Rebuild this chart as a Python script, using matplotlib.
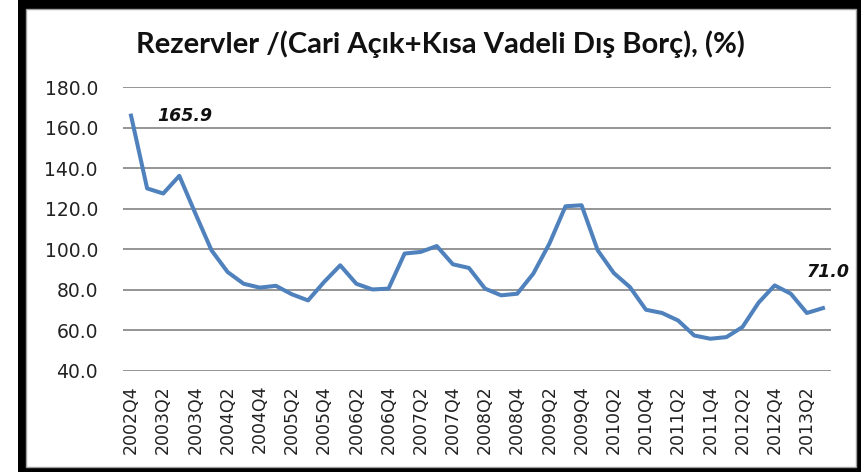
""" Reserves / (current account deficit + short-term external debt), quarterly. """

import matplotlib
matplotlib.use("Agg")
import matplotlib.pyplot as plt
from matplotlib.patches import Rectangle

quarters = [f"{y}Q{q}" for y in range(2002, 2014) for q in range(1, 5)][3:-1]

ratio = [165.9, 130.0, 127.5, 136.2, 117.6, 99.5, 88.8, 83.0, 81.1, 82.0,
         77.8, 74.8, 83.9, 92.1, 83.0, 80.2, 80.6, 97.9, 98.7, 101.6,
         92.6, 90.8, 80.6, 77.3, 78.1, 88.0, 102.8, 121.2, 121.7, 99.5,
         88.3, 81.4, 70.2, 68.6, 64.9, 57.5, 55.9, 56.7, 61.7, 73.7,
         82.2, 78.1, 68.6, 71.0]

tick_labels = quarters[::2]
y_ticks = [40, 60, 80, 100, 120, 140, 160, 180]

fig = plt.figure(figsize=(8.61, 4.72), dpi=100)

# black frame around the chart
fig.patches.append(Rectangle((18 / 861, 0), 1, 1, transform=fig.transFigure,
                             facecolor="black", edgecolor="none", zorder=-2))
fig.patches.append(Rectangle((26 / 861, 5 / 472), 830 / 861, 458 / 472,
                             transform=fig.transFigure, facecolor="white",
                             edgecolor="#a0a0a0", linewidth=1.0, zorder=-1))

ax = fig.add_axes([123 / 861, 1 - 371 / 472, 708 / 861, 284 / 472])
x = list(range(len(quarters)))
ax.plot(x, ratio, color="#4f81bd", linewidth=2.9, solid_joinstyle="round", zorder=3)

ax.set_xlim(-0.5, len(quarters) - 0.5)
ax.set_ylim(40, 180)
ax.set_yticks(y_ticks)
ax.set_yticklabels([f"{v:.1f}" for v in y_ticks], fontsize=13.5, color="#222222")
ax.set_xticks(x[::2])
ax.set_xticklabels(tick_labels, rotation=90, fontsize=12.5, color="#222222")
ax.tick_params(length=0)
ax.tick_params(axis="y", pad=18)
ax.tick_params(axis="x", pad=10)
ax.grid(axis="y", color="#8c8c8c", linewidth=1.3)
ax.set_axisbelow(True)
for s in ax.spines.values():
    s.set_visible(False)

ax.annotate(f"{ratio[0]:.1f}", (x[0], ratio[0]), xytext=(19, 0),
            textcoords="offset points", fontsize=12.5, fontweight="bold",
            fontstyle="italic", color="#111111", va="center", ha="left")
ax.annotate(f"{ratio[-1]:.1f}", (x[-1], ratio[-1]), xytext=(3.6, 26),
            textcoords="offset points", fontsize=12.5, fontweight="bold",
            fontstyle="italic", color="#111111", va="center", ha="center")

fig.text(440 / 861, 1 - 44 / 472, "Rezervler /(Cari Açık+Kısa Vadeli Dış Borç), (%)",
         fontsize=21, fontweight="bold", family="Lato", ha="center", va="center",
         color="#111111")

fig.savefig("out.png", dpi=100)
